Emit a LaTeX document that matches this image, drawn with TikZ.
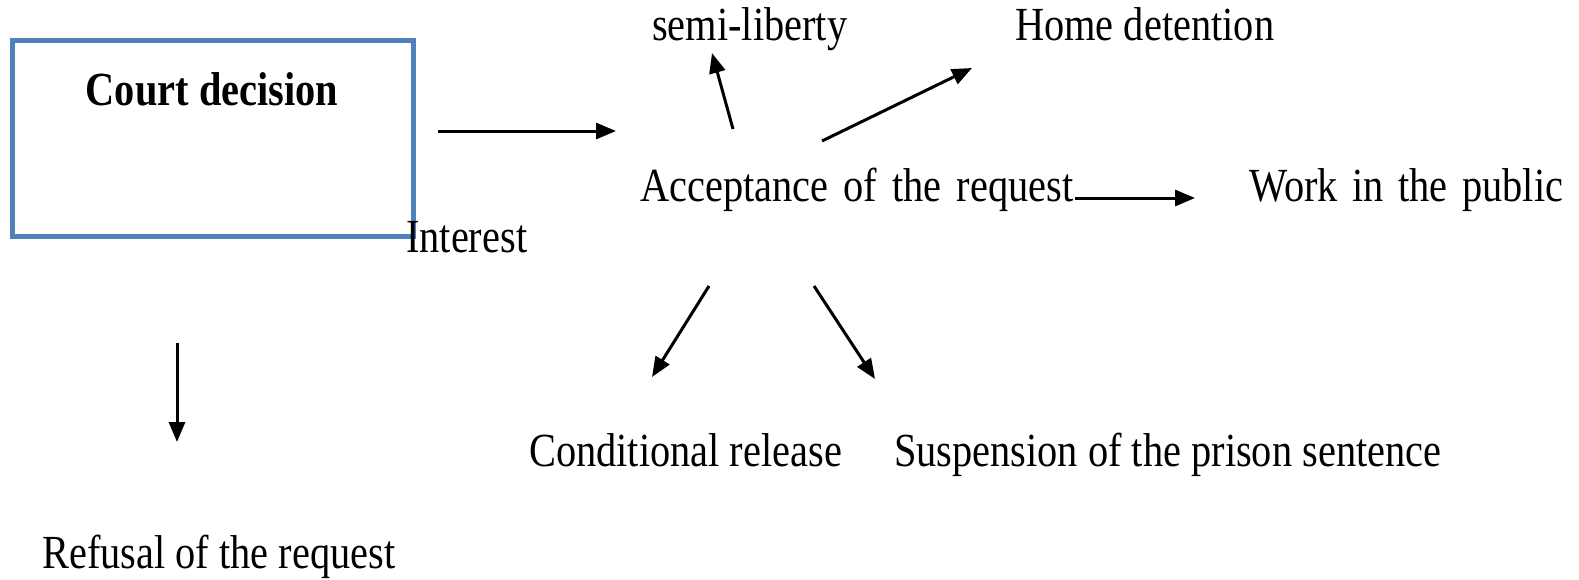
\documentclass[tikz,border=0pt]{standalone}
\usepackage{fontspec}
\setmainfont{Liberation Serif}[FakeStretch=0.85]
\usetikzlibrary{arrows.meta}
\definecolor{boxblue}{HTML}{4F81BD}
\tikzset{
  lbl/.style={inner sep=0pt, anchor=base west, font=\fontsize{47.5pt}{56pt}\selectfont},
  arr/.style={line width=3pt, -{Triangle[length=20pt,width=16pt]}},
  courtbox/.style={draw=boxblue, line width=5pt}
}
\begin{document}
\begin{tikzpicture}[x=1pt,y=-1pt]
\useasboundingbox (0,0) rectangle (1579,579);
\draw[courtbox] (12,40) rectangle (413,236);
\node[lbl, anchor=base, font=\fontsize{47.5pt}{56pt}\selectfont\bfseries] (court) at (212,105) {Court decision};
\node[lbl] (interest) at (406,252) {Interest};
\node[lbl] (semi) at (652,40) {semi-liberty};
\node[lbl] (home) at (1015,40) {Home detention};
\node[lbl] (acc) at (640,201) {\makebox[433pt][s]{Acceptance of the request}};
\node[lbl] (work) at (1249,201) {\makebox[314pt][s]{Work in the public}};
\node[lbl] (cond) at (529,466) {Conditional release};
\node[lbl] (susp) at (894,466) {Suspension of the prison sentence};
\node[lbl] (refusal) at (42,568) {Refusal of the request};
% arrow end points
\coordinate (c1s) at (438,131); \coordinate (c1e) at (616,131);
\coordinate (a1s) at (1075,198); \coordinate (a1e) at (1195,198);
\coordinate (a2s) at (733,129); \coordinate (a2e) at (712,53);
\coordinate (a3s) at (822,141); \coordinate (a3e) at (972,68);
\coordinate (a4s) at (709,286); \coordinate (a4e) at (652,377);
\coordinate (a5s) at (814,286); \coordinate (a5e) at (875,379);
\coordinate (r1s) at (177,343); \coordinate (r1e) at (177,442);
\draw[arr] (c1s) -- (c1e);
\draw[arr] (a1s) -- (a1e);
\draw[arr] (a2s) -- (a2e);
\draw[arr] (a3s) -- (a3e);
\draw[arr] (a4s) -- (a4e);
\draw[arr] (a5s) -- (a5e);
\draw[arr] (r1s) -- (r1e);
\end{tikzpicture}
\end{document}
